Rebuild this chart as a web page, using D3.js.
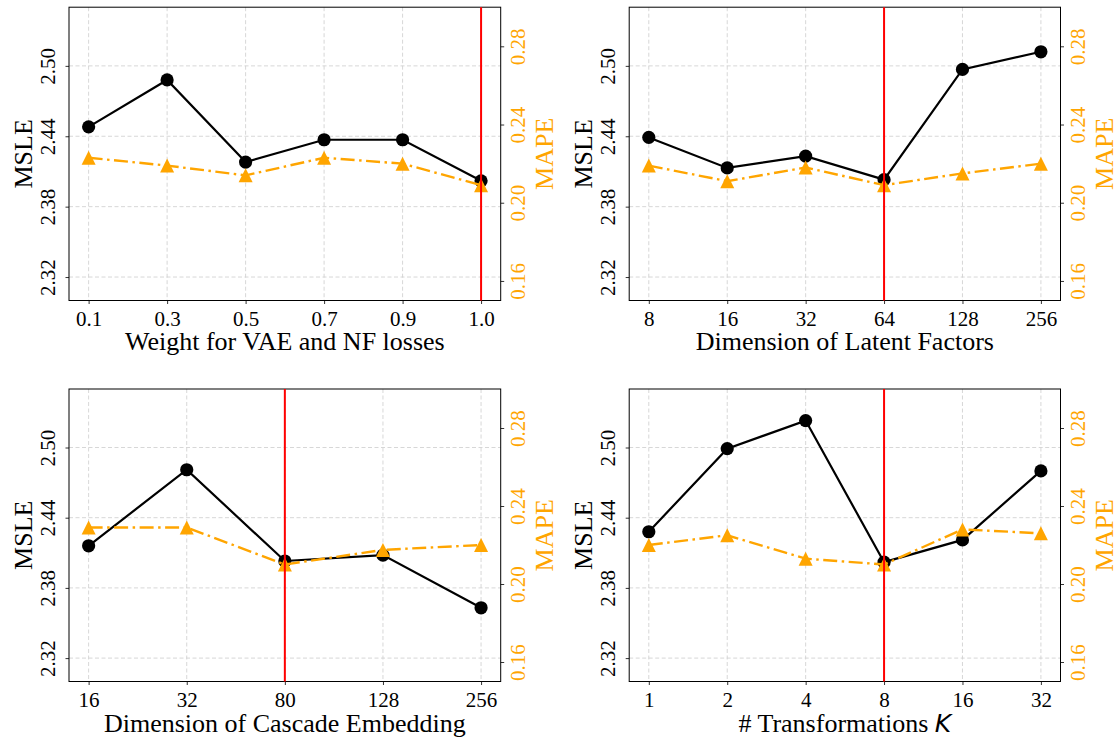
<!DOCTYPE html>
<html>
<head>
<meta charset="utf-8">
<script src="https://cdn.jsdelivr.net/npm/d3@7"></script>
<style>
  body { margin: 0; background: #fff; }
  svg text { font-family: "Liberation Serif", "Times New Roman", serif; }
</style>
</head>
<body>
<script>
// data
var weightLabels = ["0.1", "0.3", "0.5", "0.7", "0.9", "1.0"];
var weightMsle = [2.448, 2.488, 2.418, 2.437, 2.437, 2.402];
var weightMape = [0.223, 0.219, 0.214, 0.223, 0.220, 0.209];

var latentLabels = ["8", "16", "32", "64", "128", "256"];
var latentMsle = [2.439, 2.413, 2.423, 2.403, 2.497, 2.512];
var latentMape = [0.219, 0.211, 0.218, 0.209, 0.215, 0.220];

var cascadeLabels = ["16", "32", "80", "128", "256"];
var cascadeMsle = [2.416, 2.481, 2.403, 2.408, 2.363];
var cascadeMape = [0.229, 0.229, 0.210, 0.2175, 0.220];

var transLabels = ["1", "2", "4", "8", "16", "32"];
var transMsle = [2.428, 2.499, 2.523, 2.402, 2.421, 2.480];
var transMape = [0.220, 0.225, 0.213, 0.210, 0.228, 0.226];

var msleTicks = [2.32, 2.38, 2.44, 2.50];
var mapeTicks = [0.16, 0.20, 0.24, 0.28];

var panels = [
  {labels: weightLabels, msle: weightMsle, mape: weightMape, best: "1.0",
   xlabel: "Weight for VAE and NF losses", left: 69, right: 500.7, top: 7.2, bottom: 300.5},
  {labels: latentLabels, msle: latentMsle, mape: latentMape, best: "64",
   xlabel: "Dimension of Latent Factors", left: 629.2, right: 1060.5, top: 7.2, bottom: 300.5},
  {labels: cascadeLabels, msle: cascadeMsle, mape: cascadeMape, best: "80",
   xlabel: "Dimension of Cascade Embedding", left: 69, right: 500.7, top: 389, bottom: 681.5},
  {labels: transLabels, msle: transMsle, mape: transMape, best: "8",
   xlabel: "# Transformations ", italic: "K", left: 629.2, right: 1060.5, top: 389, bottom: 681.5}
];

var orange = "#FFA500";

var svg = d3.select("body").append("svg")
    .attr("width", 1116)
    .attr("height", 740);

panels.forEach(drawPanel);

function drawPanel(p){
    var w = p.right - p.left,
        h = p.bottom - p.top;

    var g = svg.append("g").attr("transform", "translate(" + p.left + "," + p.top + ")");

    //matplotlib style 5% margin on the x axis
    var x = d3.scalePoint()
        .domain(p.labels)
        .range([0, w])
        .padding(0.05 * (p.labels.length - 1));

    var yL = d3.scaleLinear().domain([2.30, 2.55]).range([h, 0]);
    var yR = d3.scaleLinear().domain([0.15, 0.30]).range([h, 0]);

    //grid
    g.selectAll(".vgrid").data(p.labels).enter().append("line")
        .attr("x1", function(d){ return x(d); })
        .attr("x2", function(d){ return x(d); })
        .attr("y1", 0).attr("y2", h)
        .attr("stroke", "#d3d3d3").attr("stroke-width", 0.9)
        .attr("stroke-dasharray", "4,2.5");
    g.selectAll(".hgrid").data(msleTicks).enter().append("line")
        .attr("x1", 0).attr("x2", w)
        .attr("y1", function(d){ return yL(d); })
        .attr("y2", function(d){ return yL(d); })
        .attr("stroke", "#d3d3d3").attr("stroke-width", 0.9)
        .attr("stroke-dasharray", "4,2.5");

    //axes
    var xAxis = g.append("g")
        .attr("transform", "translate(0," + h + ")")
        .call(d3.axisBottom(x).tickSize(3.5).tickSizeOuter(0));
    xAxis.selectAll("text")
        .attr("y", 25).attr("dy", 0)
        .attr("font-size", "21px").attr("fill", "#000");

    var lAxis = g.append("g")
        .call(d3.axisLeft(yL).tickValues(msleTicks).tickFormat(d3.format(".2f")).tickSize(3.5).tickSizeOuter(0));
    lAxis.selectAll("text")
        .attr("x", 0).attr("y", 0).attr("dy", 0)
        .attr("text-anchor", "middle")
        .attr("transform", "translate(-14,0) rotate(-90)")
        .attr("font-size", "21px").attr("fill", "#000");

    var rAxis = g.append("g")
        .attr("transform", "translate(" + w + ",0)")
        .call(d3.axisRight(yR).tickValues(mapeTicks).tickFormat(d3.format(".2f")).tickSize(3.5).tickSizeOuter(0));
    rAxis.selectAll("text")
        .attr("x", 0).attr("y", 0).attr("dy", 0)
        .attr("text-anchor", "middle")
        .attr("transform", "translate(24.5,0) rotate(-90)")
        .attr("font-size", "21px").attr("fill", orange);

    [xAxis, lAxis, rAxis].forEach(function(a){
        a.selectAll(".domain").remove();
        a.selectAll(".tick line").attr("stroke", "#333").attr("stroke-width", 1);
    });

    //frame
    g.append("rect")
        .attr("width", w).attr("height", h)
        .attr("fill", "none").attr("stroke", "#000").attr("stroke-width", 1);

    //MSLE series
    var lineL = d3.line()
        .x(function(d, i){ return x(p.labels[i]); })
        .y(function(d){ return yL(d); });
    g.append("path").datum(p.msle)
        .attr("d", lineL)
        .attr("fill", "none").attr("stroke", "#000").attr("stroke-width", 2.2);
    g.selectAll(".dot").data(p.msle).enter().append("circle")
        .attr("cx", function(d, i){ return x(p.labels[i]); })
        .attr("cy", function(d){ return yL(d); })
        .attr("r", 6.6)
        .attr("fill", "#000");

    //MAPE series
    var lineR = d3.line()
        .x(function(d, i){ return x(p.labels[i]); })
        .y(function(d){ return yR(d); });
    g.append("path").datum(p.mape)
        .attr("d", lineR)
        .attr("fill", "none").attr("stroke", orange).attr("stroke-width", 2.4)
        .attr("stroke-dasharray", "14,4.5,2.5,4.5");
    var s = 7;
    g.selectAll(".tri").data(p.mape).enter().append("path")
        .attr("transform", function(d, i){
            return "translate(" + x(p.labels[i]) + "," + yR(d) + ")";
        })
        .attr("d", "M0," + (-s) + "L" + (-s) + "," + s + "L" + s + "," + s + "Z")
        .attr("fill", orange);

    //best setting marker
    g.append("line")
        .attr("x1", x(p.best)).attr("x2", x(p.best))
        .attr("y1", 0).attr("y2", h)
        .attr("stroke", "#FF0000").attr("stroke-width", 2);

    //labels
    var xl = g.append("text")
        .attr("x", w / 2).attr("y", h + 50)
        .attr("text-anchor", "middle")
        .attr("font-size", "26px")
        .text(p.xlabel);
    if (p.italic){
        xl.append("tspan")
            .attr("font-family", "DejaVu Sans")
            .attr("font-style", "italic")
            .attr("font-size", "25px")
            .text(p.italic);
    }

    g.append("text")
        .attr("transform", "translate(-37," + (h / 2) + ") rotate(-90)")
        .attr("text-anchor", "middle")
        .attr("font-size", "26px")
        .text("MSLE");

    g.append("text")
        .attr("transform", "translate(" + (w + 52.5) + "," + (h / 2) + ") rotate(-90)")
        .attr("text-anchor", "middle")
        .attr("font-size", "26px")
        .attr("fill", orange)
        .text("MAPE");
}
</script>
</body>
</html>
